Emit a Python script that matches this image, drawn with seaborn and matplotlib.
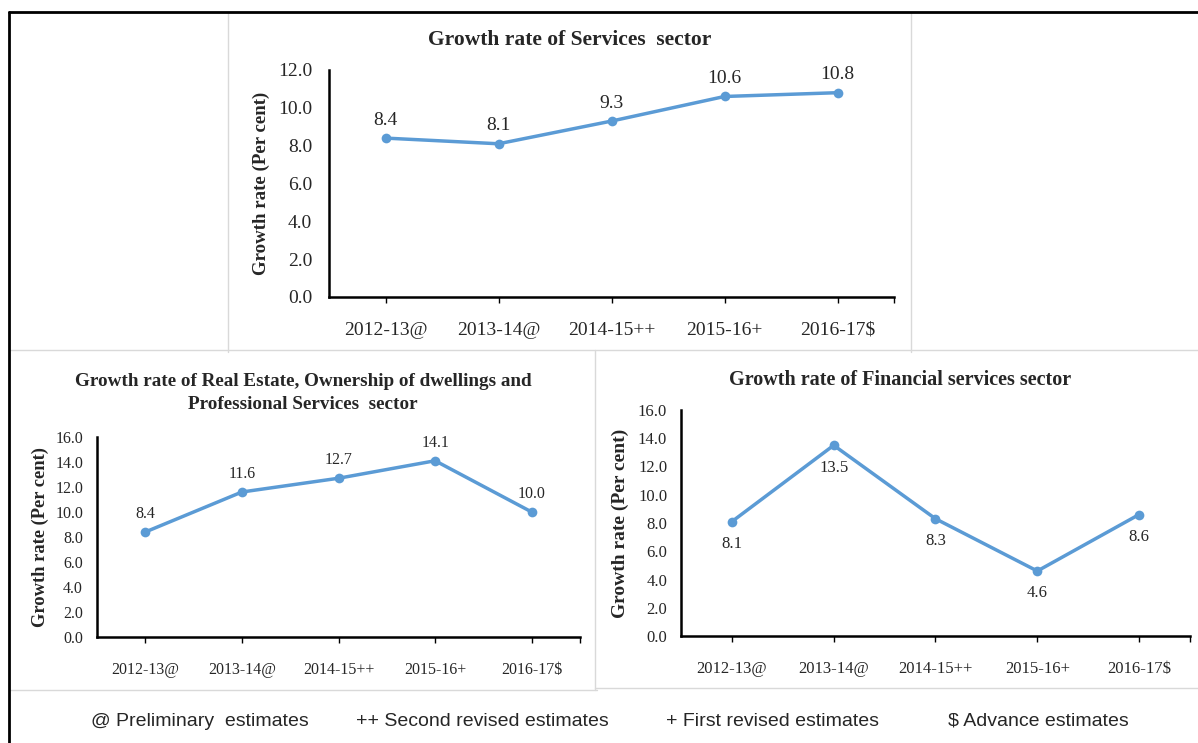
import numpy as np
import pandas as pd
import seaborn as sns
import matplotlib.pyplot as plt
from matplotlib.lines import Line2D

years = ['2012-13@', '2013-14@', '2014-15++', '2015-16+', '2016-17$']
services = [8.4, 8.1, 9.3, 10.6, 10.8]
real_estate = [8.4, 11.6, 12.7, 14.1, 10.0]
financial = [8.1, 13.5, 8.3, 4.6, 8.6]
footnotes = ['@ Preliminary  estimates', '++ Second revised estimates',
             '+ First revised estimates', '$ Advance estimates']

sns.set_style('white')
plt.rcParams['font.family'] = ['Liberation Serif', 'DejaVu Serif']

W, H = 1198, 743
fig = plt.figure(figsize=(W / 100, H / 100), dpi=100)
blue = '#5B9BD5'


def box(x0, y0, x1, y1):
    # pixel box (top-left origin) -> figure fraction [l, b, w, h]
    return [x0 / W, 1 - y1 / H, (x1 - x0) / W, (y1 - y0) / H]


def hline(y, x0, x1, c='#d9d9d9', lw=1.0):
    fig.add_artist(Line2D([x0 / W, x1 / W], [1 - y / H, 1 - y / H], color=c, lw=lw))


def vline(x, y0, y1, c='#d9d9d9', lw=1.0):
    fig.add_artist(Line2D([x / W, x / W], [1 - y0 / H, 1 - y1 / H], color=c, lw=lw))


# panel frames
vline(228, 12, 352)
vline(911, 12, 352)
hline(350, 9, 1198)
vline(595, 350, 690)
hline(690, 9, 597)
hline(688, 595, 1198)
# outer black border
hline(12, 9, 1198, c='black', lw=2)
vline(9, 12, 743, c='black', lw=2)


def panel(rect, values, ymax, title, above, fs, ypad, tfs, title_xy, ylab_x, lfs):
    ax = fig.add_axes(rect)
    df = pd.DataFrame({'year': years, 'rate': values})
    sns.lineplot(data=df, x='year', y='rate', marker='o', color=blue, lw=2.5,
                 markersize=7, markeredgewidth=0, sort=False, ax=ax)
    ax.set_xlim(-0.5, 4.5)
    ax.set_ylim(0, ymax)
    ticks = np.arange(0, ymax + 0.1, 2)
    ax.set_yticks(ticks)
    ax.set_yticklabels(['%.1f' % v for v in ticks])
    ax.set_xticks(range(5))
    ax.set_xticks([4.5], minor=True)
    ax.set_xticklabels(years)
    ax.tick_params(axis='x', which='both', length=4, width=1, color='black',
                   direction='out', bottom=True, pad=14, labelsize=fs)
    ax.tick_params(axis='y', length=0, pad=ypad, labelsize=fs)
    for s in ['top', 'right']:
        ax.spines[s].set_visible(False)
    for s in ['left', 'bottom']:
        ax.spines[s].set_color('black')
        ax.spines[s].set_linewidth(1.8)
    ax.set_xlabel('')
    ax.set_ylabel('Growth rate (Per cent)', fontsize=lfs, fontweight='bold')
    ax.yaxis.set_label_coords(ylab_x / W, rect[1] + rect[3] / 2, transform=fig.transFigure)
    for i, v in enumerate(values):
        off = 13 if above else -16
        ax.annotate('%.1f' % v, (i, v), xytext=(0, off), textcoords='offset points',
                    ha='center', va='center', fontsize=fs)
    fig.text(title_xy[1] / W, 1 - title_xy[0] / H, title, ha='center', va='center',
             fontsize=tfs, fontweight='bold', linespacing=1.45)
    return ax


a1 = panel(box(329, 70, 894, 297), services, 12, 'Growth rate of Services  sector',
           True, 14, 12, 15.5, (40, 570), 270, 13.6)
a2 = panel(box(97, 437, 580, 637), real_estate, 16,
           'Growth rate of Real Estate, Ownership of dwellings and\nProfessional Services  sector',
           True, 11.5, 10, 13.8, (393, 303), 49, 13.3)
a3 = panel(box(681, 410, 1190, 636), financial, 16,
           'Growth rate of Financial services sector',
           False, 12, 10, 14.5, (380, 900), 629, 14)

xs = [200, 482, 773, 1038]
for x, t in zip(xs, footnotes):
    fig.text(x / W, 1 - 721 / H, t, ha='center', va='center', fontsize=14,
             family=['Liberation Sans', 'DejaVu Sans'])

fig.savefig('out.png', dpi=100)
